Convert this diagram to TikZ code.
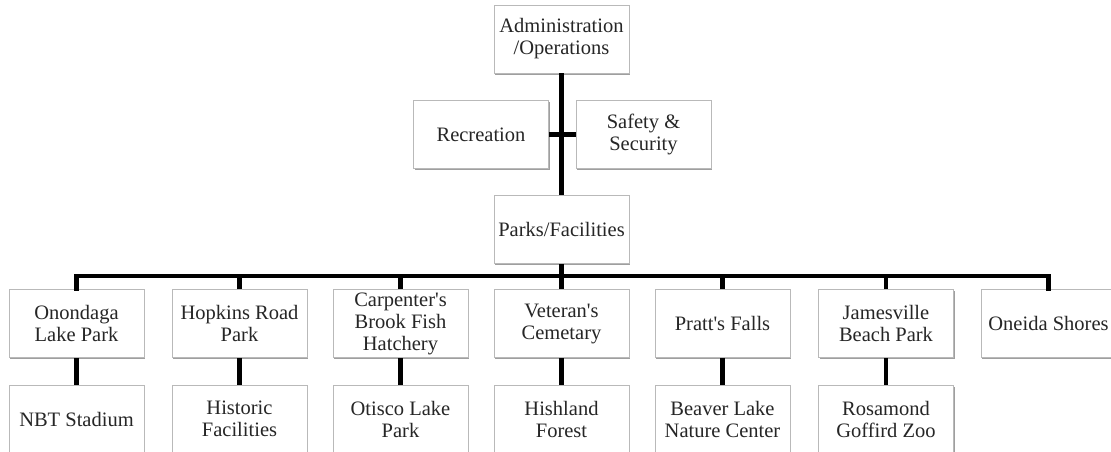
\documentclass[tikz,border=0pt]{standalone}
\usepackage{fontspec}
\setmainfont{Liberation Serif}
\usetikzlibrary{shadows}
\newcommand{\apos}{\textquotesingle}
\begin{document}
\begin{tikzpicture}[x=1pt,y=-1pt,
  unit/.style={rectangle, draw=gray!55, line width=0.8pt, fill=white,
    minimum width=135pt, minimum height=68pt, inner sep=0pt, align=center,
    text=black!85, font=\fontsize{20.5}{22}\selectfont,
    drop shadow={shadow xshift=1pt, shadow yshift=-1.6pt, fill=gray!75, opacity=1}},
  link/.style={line width=4.2pt, black}]
\useasboundingbox (0,0) rectangle (1111,452);

% management chain
\node[unit] (admin) at (561.5,39) {Administration\\/Operations};
\node[unit] (rec)   at (481,134.5) {Recreation};
\node[unit] (safe)  at (643.5,134.5) {Safety \&\\Security};
\node[unit] (parks) at (561.5,229.5) {Parks/Facilities};

% parks, first row
\node[unit] (p1) at (76.5,323.5)  {Onondaga\\Lake Park};
\node[unit] (p2) at (239.5,323.5) {Hopkins Road\\Park};
\node[unit] (p3) at (400.5,323.5) {Carpenter\apos s\\Brook Fish\\Hatchery};
\node[unit] (p4) at (561.5,323.5) {Veteran\apos s\\Cemetary};
\node[unit] (p5) at (722.5,323.5) {Pratt\apos s Falls};
\node[unit] (p6) at (886,323.5)   {Jamesville\\Beach Park};
\node[unit] (p7) at (1048.5,323.5){Oneida Shores};

% parks, second row
\node[unit] (q1) at (76.5,419)  {NBT Stadium};
\node[unit] (q2) at (239.5,419) {Historic\\Facilities};
\node[unit] (q3) at (400.5,419) {Otisco Lake\\Park};
\node[unit] (q4) at (561.5,419) {Hishland\\Forest};
\node[unit] (q5) at (722.5,419) {Beaver Lake\\Nature Center};
\node[unit] (q6) at (886,419)   {Rosamond\\Goffird Zoo};

% connectors
\coordinate (bar) at (561.5,276);
\draw[link] (admin.south) -- (parks.north);
\draw[link] (rec.east) -- (safe.west);
\draw[link] (parks.south) -- (bar);
\draw[link, line cap=rect] (p1.north) |- (bar) -| (p7.north);
\foreach \n in {p2,p3,p4,p5,p6}
  \draw[link] (\n.north) -- (\n.north |- bar);
\foreach \a/\b in {p1/q1,p2/q2,p3/q3,p4/q4,p5/q5,p6/q6}
  \draw[link] (\a.south) -- (\b.north);
\end{tikzpicture}
\end{document}
